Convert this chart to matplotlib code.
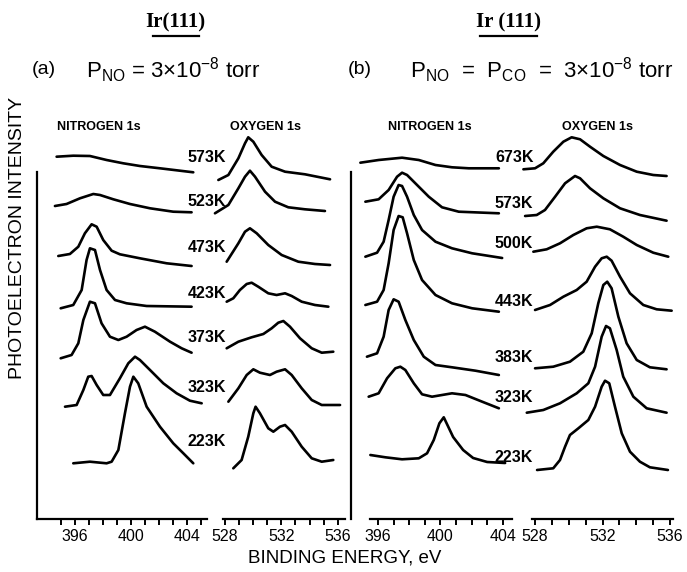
import matplotlib
matplotlib.use("Agg")
import matplotlib.pyplot as plt
from matplotlib import font_manager
from matplotlib.lines import Line2D

_names = {f.name for f in font_manager.fontManager.ttflist}
SANS = "Liberation Sans" if "Liberation Sans" in _names else "DejaVu Sans"
NARROW = "Liberation Sans Narrow" if "Liberation Sans Narrow" in _names else SANS
SERIF = "Liberation Serif" if "Liberation Serif" in _names else "DejaVu Serif"
plt.rcParams["font.family"] = [SANS, "DejaVu Sans"]
plt.rcParams["mathtext.default"] = "regular"

# ---------------- data ----------------
# Panel (a): P_NO = 3e-8 torr
temps_a = ["573K", "523K", "473K", "423K", "373K", "323K", "223K"]
offsets_a = [361, 317, 271, 226, 181, 131, 77]

n_a_energy = [
    [394.69, 395.88, 397.07, 398.26, 399.45, 400.64, 402.07, 403.26, 404.45],
    [394.57, 395.40, 396.36, 397.31, 397.79, 398.74, 399.93, 401.36, 403.02, 404.33],
    [394.81, 395.64, 396.24, 396.71, 397.19, 397.55, 398.02, 398.62, 399.21, 400.64, 402.55, 404.33],
    [394.98, 395.88, 396.48, 396.83, 397.07, 397.43, 397.79, 398.26, 398.86, 399.69, 401.12, 404.33],
    [394.98, 395.76, 396.24, 396.60, 397.07, 397.43, 397.90, 398.50, 399.10, 399.69, 400.40, 401.00,
     401.71, 402.79, 403.62, 404.33],
    [395.29, 396.12, 396.60, 396.95, 397.19, 397.55, 398.02, 398.50, 399.21, 399.81, 400.29, 400.64,
     401.36, 402.31, 403.26, 404.21, 405.05],
    [395.88, 397.07, 398.26, 398.62, 399.10, 399.57, 399.93, 400.17, 400.52, 401.12, 402.07, 403.02,
     403.74, 404.45],
]
n_a_intensity = [
    [1.3, 2.3, 2.0, -2.0, -5.3, -8.0, -10.3, -12.3, -14.3],
    [-4, -2, 3.7, 8, 7, 2.7, -2, -6.3, -9.7, -10.3],
    [-8, -6, 1.3, 14.7, 23.7, 21.3, 8, -2.7, -6.3, -10.3, -15.3, -18],
    [-15.3, -12, 3, 33, 44.7, 43, 23, 3, -7, -10.3, -13, -13.7],
    [-20.3, -17, -5.3, 18, 36.3, 34.7, 14.7, 1.3, -2, 1.3, 8, 11.3, 6.3, -3.7, -10.3, -14.7],
    [-18.7, -17, -2, 11.3, 12, 3, -7, -7, 9.7, 24.7, 31.3, 28, 18, 4.7, -5.3, -12.7, -15.3],
    [-21.3, -19.7, -21.3, -19.7, -8, 28.7, 55.3, 65.3, 58.7, 35.3, 15.3, -1.3, -11.3, -21.3],
]

o_a_energy = [
    [527.53, 528.24, 528.95, 529.42, 529.65, 530.01, 530.60, 531.31, 532.26, 533.67, 535.45],
    [527.29, 528.24, 528.95, 529.42, 529.77, 530.13, 530.84, 531.55, 532.49, 533.67, 535.09],
    [528.12, 528.95, 529.42, 529.77, 530.25, 531.07, 532.02, 533.20, 534.38, 535.45],
    [528.12, 528.59, 529.06, 529.54, 529.89, 530.36, 531.07, 531.66, 532.26, 532.73, 533.44, 534.38, 535.33],
    [528.12, 528.95, 529.89, 530.72, 531.31, 531.78, 532.14, 532.61, 533.32, 534.15, 534.86, 535.68],
    [528.24, 528.95, 529.54, 530.01, 530.48, 531.19, 531.66, 532.26, 532.73, 533.44, 534.15, 534.86, 536.16],
    [528.59, 529.18, 529.65, 530.01, 530.17, 530.48, 531.07, 531.43, 531.90, 532.26, 532.73, 533.44,
     534.15, 534.86, 535.68],
]
o_a_intensity = [
    [-22, -17, -0.3, 14.7, 20.7, 16.3, 3, -8.7, -13.7, -16.3, -21.3],
    [-11.3, -3, 13.7, 25.3, 31.3, 25.3, 10.3, 0.3, -5.3, -7.3, -9],
    [-13.7, 4.7, 16.3, 19.7, 14.7, 3, -7, -13.7, -16, -17],
    [-8.7, -5.3, 3, 9, 10.3, 6.3, -0.3, -2, -0.3, -3, -8.7, -12, -13.7],
    [-10.3, -3.7, 0.7, 4, 9.7, 15.3, 17, 11.3, -0.3, -10.3, -14.7, -13.7],
    [-13.7, -0.3, 13, 18.7, 15.3, 13, 16.3, 18.7, 13, -0.3, -12, -17, -17],
    [-26.3, -18, 5.3, 28.7, 35.3, 28.7, 13.7, 10.3, 15.3, 17, 10.3, -4.7, -16.3, -19.7, -18],
]

# Panel (b): P_NO = P_CO = 3e-8 torr
temps_b = ["673K", "573K", "500K", "443K", "383K", "323K", "223K"]
offsets_b = [361, 316, 275, 217, 161, 121, 62]

n_b_energy = [
    [394.87, 396.04, 397.54, 398.61, 399.68, 400.74, 401.81, 403.74],
    [395.19, 396.04, 396.68, 397.22, 397.54, 397.86, 398.50, 399.25, 400.10, 401.17, 403.74],
    [395.19, 395.94, 396.36, 396.68, 397.00, 397.32, 397.54, 397.86, 398.29, 398.82, 399.68, 400.74,
     402.03, 403.95],
    [395.19, 395.94, 396.36, 396.68, 397.00, 397.32, 397.58, 397.86, 398.29, 398.82, 399.68, 400.74,
     402.03, 403.74],
    [395.29, 395.94, 396.36, 396.68, 397.00, 397.32, 397.75, 398.29, 398.93, 399.68, 400.74, 402.24, 403.74],
    [395.40, 396.04, 396.58, 397.11, 397.43, 397.75, 398.29, 398.82, 399.46, 400.10, 400.74, 401.60,
     402.67, 403.74],
    [395.51, 396.47, 397.54, 398.61, 399.14, 399.57, 399.93, 400.21, 400.81, 401.45, 402.09, 402.99, 404.14],
]
n_b_intensity = [
    [-4.7, -2, 0.3, -2, -7, -9.3, -10.3, -10.3],
    [1.3, 3.7, 13, 26.3, 30.3, 28, 18, 6.3, -4.3, -8.7, -10.3],
    [-12.7, -8.7, 2.3, 24, 47.3, 59, 58, 47.3, 29, 14, 2.3, -4.3, -9.3, -14],
    [-3, 0.3, 12, 38.7, 72, 86, 84.7, 68.7, 42, 22, 7, -1.3, -6.3, -9.7],
    [1.3, 4.7, 21.3, 48, 58.7, 56.3, 38, 18, 1.3, -7, -9.3, -12.7, -17],
    [1.3, 4.7, 19.7, 29.7, 31.3, 28, 14.7, 3.7, 1.3, 3, 4.7, 3, -3.7, -10.3],
    [2, -0.3, -2.3, -1.3, 3.7, 17, 33.7, 39.7, 20, 7, -1, -5, -6],
]

o_b_energy = [
    [527.31, 528.00, 528.49, 529.08, 529.68, 530.17, 530.67, 531.26, 532.05, 533.04, 534.03, 535.01, 535.80],
    [527.41, 528.10, 528.59, 529.19, 529.78, 530.37, 530.67, 531.26, 532.05, 533.04, 534.22, 535.80],
    [527.90, 528.69, 529.48, 530.27, 531.06, 531.66, 532.44, 533.23, 534.03, 535.01, 535.90],
    [528.00, 528.89, 529.68, 530.47, 531.06, 531.56, 531.95, 532.25, 532.54, 533.04, 533.63, 534.42,
     535.21, 536.10],
    [528.00, 529.08, 530.07, 530.86, 531.36, 531.75, 532.05, 532.28, 532.54, 532.94, 533.43, 534.03,
     534.81, 535.80],
    [527.51, 528.49, 529.48, 530.47, 531.16, 531.56, 531.95, 532.21, 532.44, 532.84, 533.23, 533.83,
     534.62, 535.80],
    [528.12, 529.08, 529.48, 529.78, 530.07, 530.57, 531.16, 531.56, 531.95, 532.15, 532.40, 532.74,
     533.14, 533.63, 534.22, 534.81, 535.88],
]
o_b_intensity = [
    [-11.3, -10.3, -5.3, 6.3, 16.3, 20.7, 18.7, 11.3, 2, -7, -13.7, -17, -18],
    [-13, -12, -7, 6.3, 19.7, 27, 24.7, 14.7, 4.7, -5.3, -12, -17.7],
    [-7.7, -5.3, 0.7, 9, 15.7, 17.3, 14.7, 7.3, -1, -8.7, -12.7],
    [-8, -3, 5.3, 12, 20.3, 35.3, 43.7, 45.3, 41.3, 25.3, 8.7, -3, -7.3, -8.7],
    [-10.3, -8.7, -3.7, 6.3, 24.7, 54.7, 73, 76.3, 69.7, 41.3, 14.7, -2, -9.3, -11.3],
    [-14.7, -12, -5.3, 4.7, 14.7, 31.3, 61.3, 72, 69.7, 48, 21.3, 1.3, -10.3, -14.7],
    [-13, -11.3, -3, 10.3, 22, 28.7, 37, 50.3, 70.3, 76.3, 73.7, 50.3, 23.7, 5.3, -4.7, -10.3, -13],
]

n_ticks_a = list(range(395, 406))
o_ticks = list(range(528, 537))
n_ticks_b = list(range(396, 405))

# ---------------- figure ----------------
W, H = 687, 572
fig = plt.figure(figsize=(W / 100, H / 100), dpi=100)
fig.patch.set_facecolor("white")

Y_TOP, Y_BOT = 172, 519


def rect(x0, x1):
    return [x0 / W, (H - Y_BOT) / H, (x1 - x0) / W, (Y_BOT - Y_TOP) / H]


def fx(px):
    return px / W


def fy(py):
    return (H - py) / H


LW = 1.9


def setup(ax, xlim, ticks, left=False, bounds=None):
    ax.set_xlim(*xlim)
    ax.set_ylim(0, Y_BOT - Y_TOP)
    ax.patch.set_visible(False)
    for s in ["top", "right"]:
        ax.spines[s].set_visible(False)
    ax.spines["left"].set_visible(left)
    ax.spines["left"].set_linewidth(1.6)
    ax.spines["bottom"].set_linewidth(1.6)
    if bounds is not None:
        ax.spines["bottom"].set_bounds(*bounds)
    ax.set_yticks([])
    ax.set_xticks(ticks)
    ax.set_xticklabels([str(t) if t % 4 == 0 else "" for t in ticks],
                       fontfamily=NARROW, fontsize=11.5)
    ax.tick_params(axis="x", direction="out", length=4, width=1.4, pad=3.5)


def draw(ax, energies, intens, offsets):
    for e, i, off in zip(energies, intens, offsets):
        ax.plot(e, [v + off for v in i], color="black", lw=LW,
                solid_joinstyle="round", solid_capstyle="round", clip_on=False)


ax_na = fig.add_axes(rect(37, 207))
setup(ax_na, (393.29, 405.43), n_ticks_a, left=True)
ax_oa = fig.add_axes(rect(223, 345))
setup(ax_oa, (527.86, 536.51), o_ticks)
ax_nb = fig.add_axes(rect(351, 512))
setup(ax_nb, (394.27, 404.58), n_ticks_b, left=True, bounds=(395.49, 404.58))
ax_ob = fig.add_axes(rect(532, 673))
setup(ax_ob, (527.82, 536.18), o_ticks)

draw(ax_na, n_a_energy, n_a_intensity, offsets_a)
draw(ax_oa, o_a_energy, o_a_intensity, offsets_a)
draw(ax_nb, n_b_energy, n_b_intensity, offsets_b)
draw(ax_ob, o_b_energy, o_b_intensity, offsets_b)

# temperature labels
for t, off in zip(temps_a, offsets_a):
    ax_na.text(404.07, off, t, ha="left", va="center", fontsize=11.5,
               fontweight="bold", clip_on=False)
for t, off in zip(temps_b, offsets_b):
    ax_nb.text(403.49, off, t, ha="left", va="center", fontsize=11.5,
               fontweight="bold", clip_on=False)

# column headers
for x, s in [(99, "NITROGEN 1s"), (266, "OXYGEN 1s"), (430, "NITROGEN 1s"), (597, "OXYGEN 1s")]:
    fig.text(fx(x), fy(127), s, ha="center", va="center", fontsize=9, fontweight="bold")

# titles
for x, x0, x1, s in [(175, 153, 199, "Ir(111)"), (508, 480, 537, "Ir (111)")]:
    fig.text(fx(x), fy(22), s, ha="center", va="center", fontsize=15,
             fontfamily=SERIF, fontweight="bold")
    fig.add_artist(Line2D([fx(x0), fx(x1)], [fy(36), fy(36)], color="black", lw=1.6))

fig.text(fx(44), fy(70), "(a)", ha="center", va="center", fontsize=14)
fig.text(fx(86), fy(70), r"P$_{NO}$ = 3$\times$10$^{-8}$ torr", ha="left", va="center", fontsize=16)
fig.text(fx(360), fy(70), "(b)", ha="center", va="center", fontsize=14)
fig.text(fx(410), fy(70), r"P$_{NO}$  =  P$_{CO}$  =  3$\times$10$^{-8}$ torr", ha="left",
         va="center", fontsize=16)

fig.text(fx(18), fy(238), "PHOTOELECTRON INTENSITY", rotation=90, ha="center", va="center",
         fontsize=14)
fig.text(fx(345), fy(558), "BINDING ENERGY, eV", ha="center", va="center", fontsize=13.5)

fig.savefig("out.png", dpi=100, facecolor="white")
